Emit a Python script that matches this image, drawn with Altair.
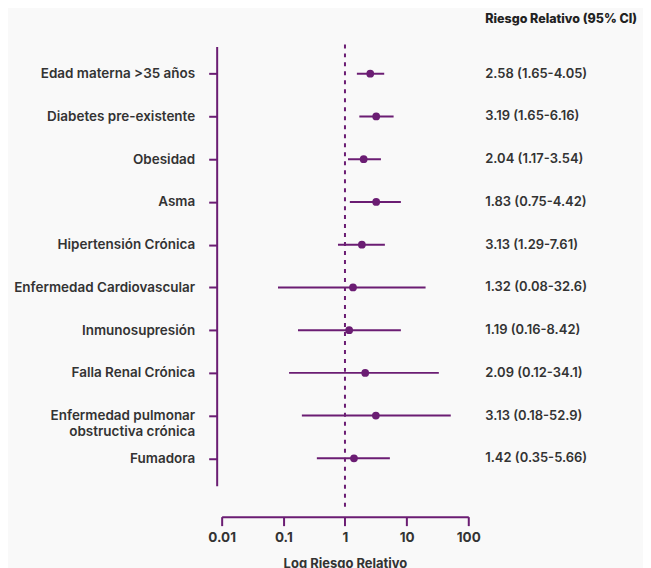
import altair as alt
import pandas as pd

categories = [
    "Edad materna >35 años",
    "Diabetes pre-existente",
    "Obesidad",
    "Asma",
    "Hipertensión Crónica",
    "Enfermedad Cardiovascular",
    "Inmunosupresión",
    "Falla Renal Crónica",
    "Enfermedad pulmonar obstructiva crónica",
    "Fumadora",
]
rr_point = [2.57, 3.21, 2.01, 3.21, 1.88, 1.35, 1.17, 2.13, 3.17, 1.40]
ci_low = [1.56, 1.71, 1.12, 1.20, 0.77, 0.082, 0.173, 0.124, 0.20, 0.35]
ci_high = [4.33, 6.15, 3.83, 8.07, 4.44, 20.3, 8.07, 33.3, 52.0, 5.35]
rr_text = [
    "2.58 (1.65-4.05)",
    "3.19 (1.65-6.16)",
    "2.04 (1.17-3.54)",
    "1.83 (0.75-4.42)",
    "3.13 (1.29-7.61)",
    "1.32 (0.08-32.6)",
    "1.19 (0.16-8.42)",
    "2.09 (0.12-34.1)",
    "3.13 (0.18-52.9)",
    "1.42 (0.35-5.66)",
]
x_ticks = [0.01, 0.1, 1, 10, 100]
ref_value = [1]

PURPLE = "#6b1d73"
TEXT = "#333333"
FONT = "Inter"

df = pd.DataFrame({
    "cat": categories,
    "rr": rr_point,
    "lo": ci_low,
    "hi": ci_high,
    "label": rr_text,
})
ref_df = pd.DataFrame({"x": ref_value})

W, H = 247, 440

x_scale = alt.Scale(type="log", domain=[0.01, 100], nice=False)
y_scale = alt.Scale(type="point", domain=categories, padding=0.64)

y_axis = alt.Axis(
    title=None,
    offset=5,
    domainColor=PURPLE,
    domainWidth=2,
    tickColor=PURPLE,
    tickWidth=2,
    tickSize=8,
    labelPadding=14,
    labelFont=FONT,
    labelFontSize=13.5,
    labelFontWeight=600,
    labelColor=TEXT,
    labelLimit=300,
    labelExpr="datum.value == 'Enfermedad pulmonar obstructiva crónica' ? ['Enfermedad pulmonar', 'obstructiva crónica'] : datum.value",
)
x_axis = alt.Axis(
    title="Log Riesgo Relativo",
    values=x_ticks,
    format="~g",
    offset=31,
    grid=False,
    labelFlush=False,
    domainColor=PURPLE,
    domainWidth=2,
    tickColor=PURPLE,
    tickWidth=2,
    tickSize=9,
    labelPadding=5,
    labelFont=FONT,
    labelFontSize=13.5,
    labelFontWeight=700,
    labelColor=TEXT,
    titleFont=FONT,
    titleFontSize=13,
    titleFontWeight=700,
    titleColor=TEXT,
    titlePadding=13,
)

base = alt.Chart(df)

bars = base.mark_rule(color=PURPLE, strokeWidth=2).encode(
    x=alt.X("lo:Q", scale=x_scale, axis=x_axis),
    x2="hi:Q",
    y=alt.Y("cat:N", scale=y_scale, axis=y_axis, sort=categories),
)

points = base.mark_circle(color=PURPLE, size=60, opacity=1).encode(
    x=alt.X("rr:Q", scale=x_scale),
    y=alt.Y("cat:N", scale=y_scale, sort=categories),
)

ref = alt.Chart(ref_df).mark_rule(
    color=PURPLE, strokeWidth=2, strokeDash=[4, 5]
).encode(
    x=alt.X("x:Q", scale=x_scale),
    y=alt.value(-2),
    y2=alt.value(H + 21),
)

labels = base.mark_text(
    align="left", baseline="middle", font=FONT, fontSize=13,
    fontWeight=600, color=TEXT
).encode(
    x=alt.value(W + 17),
    y=alt.Y("cat:N", scale=y_scale, sort=categories),
    text="label:N",
)

header = alt.Chart(pd.DataFrame({"t": ["Riesgo Relativo (95% CI)"]})).mark_text(
    align="left", baseline="middle", font=FONT, fontSize=12.5,
    fontWeight=800, color="#222222"
).encode(
    x=alt.value(W + 17),
    y=alt.value(-27),
    text="t:N",
)

chart = alt.layer(ref, bars, points, labels, header).properties(
    width=W, height=H, background="#f9f9f9"
).configure_view(stroke=None)

chart.save("out.html", embed_options={"renderer": "svg", "actions": False})
